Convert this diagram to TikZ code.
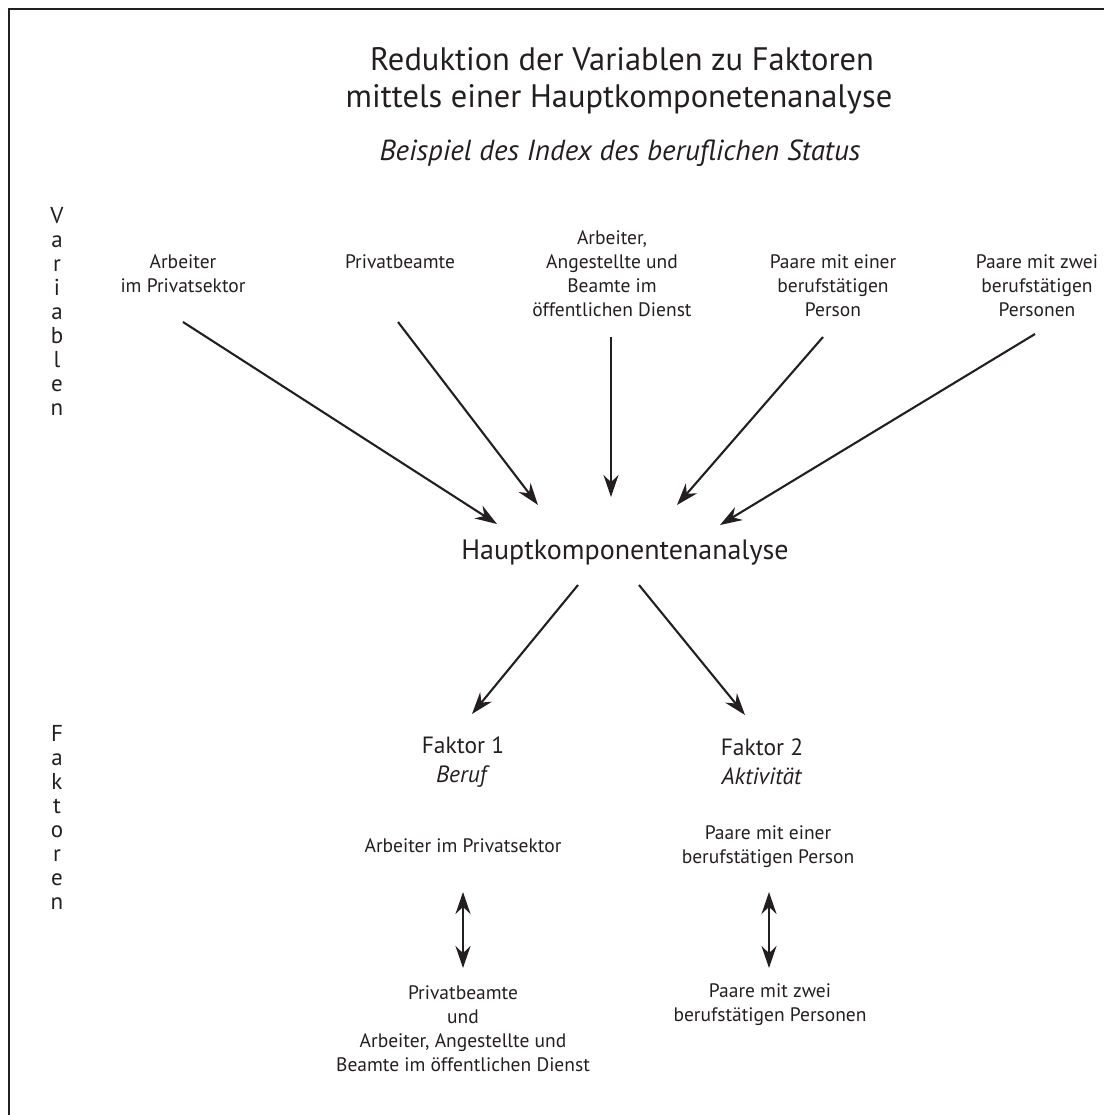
\documentclass[tikz,border=0pt]{standalone}
\usepackage{fontspec}
\setmainfont{PT Sans}
\usetikzlibrary{arrows.meta}

\definecolor{ink}{RGB}{35,31,32}
\newcommand{\titlesize}{\fontsize{32.5}{40}\selectfont}
\newcommand{\subsize}{\fontsize{29}{36}\selectfont}
\newcommand{\hubsize}{\fontsize{28}{34}\selectfont}
\newcommand{\labelsize}{\fontsize{19.5}{24}\selectfont}
\newcommand{\factorsize}{\fontsize{23.5}{29}\selectfont}
\newcommand{\sidesize}{\fontsize{23}{24}\selectfont}

\begin{document}
\begin{tikzpicture}[x=1pt,y=-1pt,>={Stealth[length=22pt,width=15pt]},
  every node/.style={inner sep=0pt,align=center,text=ink},
  varlabel/.style={font=\labelsize},
  sidelabel/.style={font=\sidesize},
  flow/.style={draw=ink,line width=2.1pt,->},
  swap/.style={draw=ink,line width=2.1pt,<->}]

\useasboundingbox (0,0) rectangle (1104,1115);

% ============================================================
% FRAME AND HEADINGS
% ============================================================

\draw[ink,line width=2.6pt] (9,1115) -- (9,9) -- (1104,9);

\node[font=\titlesize] (title1) at (622,59) {Reduktion der Variablen zu Faktoren};
\node[font=\titlesize] (title2) at (619,99) {mittels einer Hauptkomponetenanalyse};
\node[font=\subsize\itshape] (sub) at (620,153) {Beispiel des Index des beruflichen Status};

\node[sidelabel] (varside) at (57,311) {V\\a\\r\\i\\a\\b\\l\\e\\n};
\node[sidelabel] (facside) at (57,817) {F\\a\\k\\t\\o\\r\\e\\n};

% ============================================================
% 1. VARIABLES
% ============================================================

\node[varlabel] (v1) at (183,274) {Arbeiter\\im Privatsektor};
\node[varlabel] (v2) at (400,262) {Privatbeamte};
\node[varlabel] (v3) at (612,274) {Arbeiter,\\Angestellte und\\Beamte im\\öffentlichen Dienst};
\node[varlabel] (v4) at (833,286) {Paare mit einer\\berufstätigen\\Person};
\node[varlabel] (v5) at (1037,286) {Paare mit zwei\\berufstätigen\\Personen};

\node[font=\hubsize] (hka) at (625,553) {Hauptkomponentenanalyse};

% arrow ends (explicit)
\coordinate (s1) at (183,322);  \coordinate (t1) at (497,524);
\coordinate (s2) at (398,322);  \coordinate (t2) at (538,505);
\coordinate (s3) at (611,337);  \coordinate (t3) at (611,497);
\coordinate (s4) at (823,337);  \coordinate (t4) at (677,505);
\coordinate (s5) at (1035,334); \coordinate (t5) at (720,525);

\foreach \s/\t in {s1/t1,s2/t2,s3/t3,s4/t4,s5/t5}{
  \draw[flow] (\s) -- (\t);
}

% ============================================================
% 2. FACTORS
% ============================================================

\node[font=\factorsize] (f1) at (463,762) {Faktor 1\\\textit{Beruf}};
\node[font=\factorsize] (f2) at (762,762) {Faktor 2\\\textit{Aktivität}};

\coordinate (o1) at (578,585); \coordinate (p1) at (472,714);
\coordinate (o2) at (639,585); \coordinate (p2) at (745,715);
\draw[flow] (o1) -- (p1);
\draw[flow] (o2) -- (p2);

\node[varlabel] (l1) at (463,846) {Arbeiter im Privatsektor};
\node[varlabel] (l2) at (463,1029) {Privatbeamte\\und\\Arbeiter, Angestellte und\\Beamte im öffentlichen Dienst};
\node[varlabel] (r1) at (768,847) {Paare mit einer\\berufstätigen Person};
\node[varlabel] (r2) at (770,1005) {Paare mit zwei\\berufstätigen Personen};

\coordinate (l1b) at (463,892); \coordinate (l2t) at (463,968);
\coordinate (r1b) at (769,892); \coordinate (r2t) at (769,968);
\draw[swap] (l1b) -- (l2t);
\draw[swap] (r1b) -- (r2t);

\end{tikzpicture}
\end{document}
